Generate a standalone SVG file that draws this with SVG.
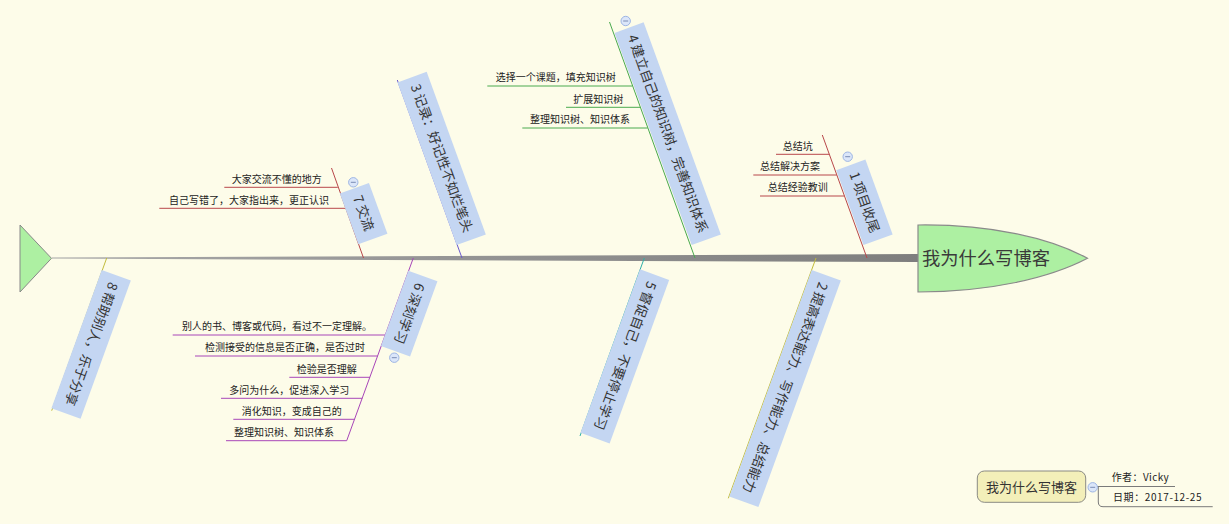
<svg xmlns="http://www.w3.org/2000/svg" width="1229" height="524" viewBox="0 0 1229 524">
<style>
.lbl{fill:#c4d6f2;stroke:none}
.lt{font-family:"Noto Sans CJK SC","Noto Sans",sans-serif;font-size:13.3px;fill:#333}
.st{font-family:"Noto Sans CJK SC","Noto Sans",sans-serif;font-size:10px;fill:#222;text-anchor:end}
.ln{fill:none;stroke-width:1}
.red{stroke:#b8474a}
.blu{stroke:#6a5acd}
.grn{stroke:#4aaa4e}
.tea{stroke:#2fb0a8}
.olv{stroke:#c2bc3c}
.pur{stroke:#a846b8}
.gry{stroke:#7a7a7a}
.ic circle{fill:#dbe6f9;stroke:#9db5e4;stroke-width:1}
.ic line{stroke:#7a8cb4;stroke-width:1}
</style>
<defs>
<linearGradient id="sp" x1="0" y1="0" x2="1" y2="0">
<stop offset="0" stop-color="#a8a8a8"/>
<stop offset="1" stop-color="#7e7e7e"/>
</linearGradient>
</defs>
<rect x="0" y="0" width="1229" height="524" fill="#fdfce9"/>

<g id="connectors">
<polygon points="52,257.6 918,254 918,262 52,258.6" fill="url(#sp)"/>
<line class="ln red" x1="867" y1="258" x2="822.3" y2="135"/>
<line class="ln red" x1="363.5" y1="258" x2="331.5" y2="168"/>
<line class="ln blu" x1="462" y1="258" x2="397.3" y2="80"/>
<line class="ln grn" x1="695" y1="258" x2="609.5" y2="22"/>
<line class="ln tea" x1="644.3" y1="258" x2="580" y2="436"/>
<line class="ln olv" x1="816" y1="258" x2="728.3" y2="498.3"/>
<line class="ln pur" x1="413.3" y1="258" x2="346.7" y2="440.7"/>
<line class="ln olv" x1="106.7" y1="258" x2="51.7" y2="410.7"/>
<line class="ln red" x1="776" y1="154.3" x2="829.3" y2="154.3"/>
<line class="ln red" x1="753.3" y1="175" x2="836.8" y2="175"/>
<line class="ln red" x1="760" y1="196" x2="844.5" y2="196"/>
<line class="ln red" x1="224.3" y1="187.3" x2="337.8" y2="187.3"/>
<line class="ln red" x1="159.3" y1="208.3" x2="345.4" y2="208.3"/>
<line class="ln grn" x1="487.3" y1="86" x2="632.4" y2="86"/>
<line class="ln grn" x1="566" y1="107.3" x2="640.2" y2="107.3"/>
<line class="ln grn" x1="522.3" y1="128" x2="647.7" y2="128"/>
<line class="ln pur" x1="172.7" y1="335" x2="385.3" y2="335"/>
<line class="ln pur" x1="195" y1="356" x2="377.7" y2="356"/>
<line class="ln pur" x1="289.3" y1="377.3" x2="370" y2="377.3"/>
<line class="ln pur" x1="221" y1="398.3" x2="362.3" y2="398.3"/>
<line class="ln pur" x1="233.3" y1="419.3" x2="354.7" y2="419.3"/>
<line class="ln pur" x1="226" y1="440.7" x2="346.7" y2="440.7"/>
<line class="ln gry" x1="1092.7" y1="486.5" x2="1175" y2="486.5"/>
<path class="ln gry" d="M1098.3,486.5 V502 Q1098.3,506.7 1103,506.7 H1212.7"/>
</g>

<g id="tail">
<polygon points="20,225 20,292 51.5,258.3" fill="#adf0a2" stroke="#888" stroke-width="1"/>
</g>

<g id="head">
<path d="M918,225 C990,224 1050,238 1087.5,258.3 C1050,278 990,292 918,292 Z" fill="#adf0a2" stroke="#8a8a8a" stroke-width="1.2"/>
<text x="922" y="264.8" font-family="'Noto Sans CJK SC','Noto Sans',sans-serif" font-size="18.3px" fill="#3a3a3a">我为什么写博客</text>
</g>

<g id="n1">
<g transform="translate(863.5,245) rotate(70)">
<rect class="lbl" x="-79.6" y="-31" width="79.6" height="31"/>
<text class="lt" x="-71.6" y="-10.8">1 项目收尾</text>
</g>
<text class="st" x="812.7" y="149.5">总结坑</text>
<text class="st" x="820" y="170.2">总结解决方案</text>
<text class="st" x="827.7" y="191.2">总结经验教训</text>
<g class="ic"><circle cx="847.7" cy="156.7" r="4.7"/><line x1="845.2" y1="156.7" x2="850.2" y2="156.7"/></g>
</g>

<g id="n7">
<g transform="translate(358.3,244.3) rotate(70)">
<rect class="lbl" x="-54" y="-31" width="54" height="31"/>
<text class="lt" x="-46" y="-10.8">7 交流</text>
</g>
<text class="st" x="321.7" y="182.5">大家交流不懂的地方</text>
<text class="st" x="329" y="203.5">自己写错了，大家指出来，更正认识</text>
<g class="ic"><circle cx="353.3" cy="182.3" r="4.7"/><line x1="350.8" y1="182.3" x2="355.8" y2="182.3"/></g>
</g>

<g id="n3">
<g transform="translate(456.7,245) rotate(70)">
<rect class="lbl" x="-173" y="-31" width="173" height="31"/>
<text class="lt" x="-165" y="-10.8">3 记录：好记性不如烂笔头</text>
</g>
</g>

<g id="n4">
<g transform="translate(691.7,245) rotate(70)">
<rect class="lbl" x="-225.7" y="-31" width="225.7" height="31"/>
<text class="lt" x="-217.7" y="-10.8">4 建立自己的知识树，完善知识体系</text>
</g>
<text class="st" x="615.7" y="81.2">选择一个课题，填充知识树</text>
<text class="st" x="623.3" y="102.5">扩展知识树</text>
<text class="st" x="630" y="123.2">整理知识树、知识体系</text>
<g class="ic"><circle cx="625.7" cy="21" r="4.7"/><line x1="623.2" y1="21" x2="628.2" y2="21"/></g>
</g>

<g id="n5">
<g transform="translate(640,269.3) rotate(110)">
<rect class="lbl" x="0" y="-31" width="174" height="31"/>
<text class="lt" x="8" y="-10.8">5 督促自己，不要停止学习</text>
</g>
</g>

<g id="n2">
<g transform="translate(811.7,270) rotate(110)">
<rect class="lbl" x="0" y="-31" width="241" height="31"/>
<text class="lt" x="8" y="-10.8">2 提高表达能力、写作能力、总结能力</text>
</g>
</g>

<g id="n6">
<g transform="translate(408.3,270.7) rotate(110)">
<rect class="lbl" x="0" y="-31" width="80" height="31"/>
<text class="lt" x="8" y="-10.8">6 深刻学习</text>
</g>
<text class="st" x="372" y="330.2">别人的书、博客或代码，看过不一定理解。</text>
<text class="st" x="365" y="351.2">检测接受的信息是否正确，是否过时</text>
<text class="st" x="356.8" y="372.5">检验是否理解</text>
<text class="st" x="349.3" y="393.5">多问为什么，促进深入学习</text>
<text class="st" x="341.7" y="414.5">消化知识，变成自己的</text>
<text class="st" x="334" y="435.9">整理知识树、知识体系</text>
<g class="ic"><circle cx="394.3" cy="357.7" r="4.7"/><line x1="391.8" y1="357.7" x2="396.8" y2="357.7"/></g>
</g>

<g id="n8">
<g transform="translate(101.7,270) rotate(110)">
<rect class="lbl" x="0" y="-31" width="147" height="31"/>
<text class="lt" x="8" y="-10.8">8 帮助别人，乐于分享</text>
</g>
</g>

<g id="legend">
<rect x="977.3" y="471" width="108.4" height="31.3" rx="7" fill="#f3efb9" stroke="#8a8a84" stroke-width="1"/>
<text x="1031.5" y="491.5" text-anchor="middle" font-family="'Noto Sans CJK SC','Noto Sans',sans-serif" font-size="13px" fill="#333">我为什么写博客</text>
<g class="ic"><circle cx="1092.7" cy="487.3" r="4.7"/><line x1="1090.2" y1="487.3" x2="1095.2" y2="487.3"/></g>
<text x="1111.7" y="481" font-family="'Noto Sans CJK SC','Noto Sans',sans-serif" font-size="10px" fill="#222" letter-spacing="0.4">作者：Vicky</text>
<text x="1113" y="501" font-family="'Noto Sans CJK SC','Noto Sans',sans-serif" font-size="10px" fill="#222" letter-spacing="0.6">日期：2017-12-25</text>
</g>
</svg>
